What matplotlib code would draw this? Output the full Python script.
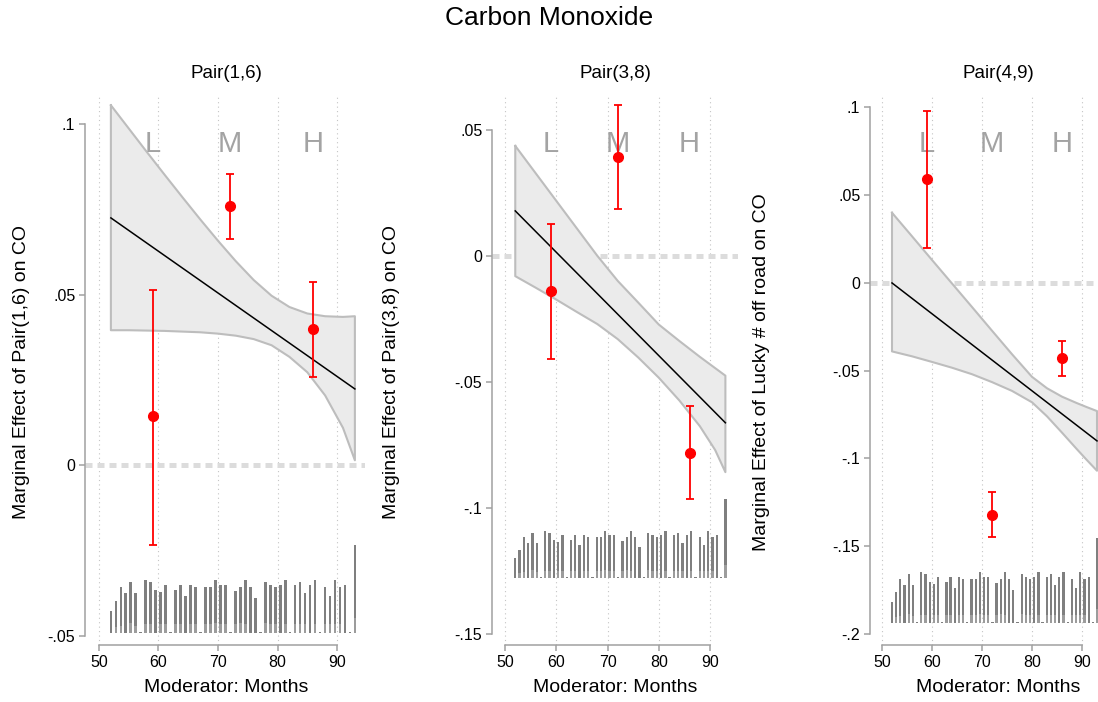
import numpy as np
import matplotlib
matplotlib.use("Agg")
import matplotlib.pyplot as plt
from matplotlib.ticker import FuncFormatter

plt.rcParams['font.family'] = ['Liberation Sans', 'DejaVu Sans']

# ---- data ----
# moderator histogram (same sample in every panel), 50 bins from 52 to 93 months
hist_lo, hist_hi, hist_n = 52, 93, 50
hist_counts = [18, 26, 37, 32, 41, 32, 1, 43, 41, 35, 33, 39, 1, 35, 39, 30, 39, 37, 1, 37,
               37, 43, 39, 39, 1, 34, 37, 43, 37, 28, 1, 41, 39, 37, 39, 43, 1, 39, 41, 32,
               39, 43, 1, 37, 30, 43, 37, 39, 1, 71]
hist_treated = [0, 5, 6, 0, 8, 6, 0, 7, 7, 0, 7, 7, 0, 7, 7, 0, 7, 7, 0, 7,
                7, 8, 7, 7, 0, 7, 8, 7, 0, 0, 0, 8, 7, 7, 0, 7, 0, 7, 7, 7,
                0, 7, 0, 7, 7, 7, 7, 0, 0, 12]

bin_labels = ['L', 'M', 'H']
bin_x = [59, 72, 86]

titles = ['Pair(1,6)', 'Pair(3,8)', 'Pair(4,9)']
ylabels = ['Marginal Effect of Pair(1,6) on CO',
           'Marginal Effect of Pair(3,8) on CO',
           'Marginal Effect of Lucky # off road on CO']

# linear marginal effect
line_x = [52, 93]
p1_line = [0.0725, 0.0224]
p2_line = [0.0179, -0.0662]
p3_line = [0.0, -0.090]

# confidence band
p1_band_x = [52, 55, 58, 61, 64, 67, 70, 73, 76, 79, 82, 85, 88, 91, 93]
p1_upper = [0.1055, 0.0987, 0.0919, 0.0852, 0.0786, 0.0721, 0.0658, 0.0598, 0.0543,
            0.0497, 0.0464, 0.0445, 0.0437, 0.0435, 0.0437]
p1_lower = [0.0396, 0.0396, 0.0395, 0.0394, 0.0392, 0.0390, 0.0386, 0.0380, 0.0370,
            0.0352, 0.0318, 0.0273, 0.0205, 0.0110, 0.0015]

p2_band_x = [52, 56, 60, 64, 68, 72, 76, 80, 84, 88, 91, 93]
p2_upper = [0.0437, 0.0328, 0.0219, 0.0110, 0.0001, -0.0099, -0.0185, -0.0272,
            -0.0337, -0.0400, -0.0445, -0.0475]
p2_lower = [-0.0080, -0.0126, -0.0173, -0.0222, -0.0270, -0.0330, -0.0403, -0.0483,
            -0.0573, -0.0675, -0.0770, -0.0858]

p3_band_x = [52, 56, 60, 64, 68, 72, 76, 80, 83, 86, 89, 91, 93]
p3_upper = [0.040, 0.0266, 0.0131, -0.0003, -0.0137, -0.0272, -0.0406, -0.0535,
            -0.0600, -0.0648, -0.0685, -0.0708, -0.073]
p3_lower = [-0.039, -0.0418, -0.045, -0.0483, -0.052, -0.0565, -0.0615, -0.068,
            -0.076, -0.0853, -0.0948, -0.1010, -0.107]

# binned estimates (L, M, H)
p1_est = [0.0144, 0.0760, 0.0400]
p1_lo = [-0.0233, 0.0663, 0.0259]
p1_hi = [0.0514, 0.0853, 0.0537]

p2_est = [-0.0140, 0.0394, -0.0782]
p2_lo = [-0.0408, 0.0186, -0.0966]
p2_hi = [0.0126, 0.0601, -0.0596]

p3_est = [0.059, -0.132, -0.043]
p3_lo = [0.020, -0.145, -0.053]
p3_hi = [0.098, -0.119, -0.033]

p1_yticks = [-0.05, 0, 0.05, 0.1]
p2_yticks = [-0.15, -0.1, -0.05, 0, 0.05]
p3_yticks = [-0.2, -0.15, -0.1, -0.05, 0, 0.05, 0.1]
xticks = [50, 60, 70, 80, 90]

# ---- layout (pixels) ----
W, H = 1098, 702
fig = plt.figure(figsize=(W / 100, H / 100), dpi=100)

panels = [
    dict(rect=(85, 365, 95, 645), xlim=(47.65, 94.7), ylim=(-0.0526, 0.1085),
         line=p1_line, bx=p1_band_x, up=p1_upper, lo=p1_lower,
         est=p1_est, elo=p1_lo, ehi=p1_hi, yt=p1_yticks,
         base=-0.0491, scale=0.000363, ylab_x=22, cx=226),
    dict(rect=(492, 738, 95, 645), xlim=(47.46, 95.46), ylim=(-0.1544, 0.0639),
         line=p2_line, bx=p2_band_x, up=p2_upper, lo=p2_lower,
         est=p2_est, elo=p2_lo, ehi=p2_hi, yt=p2_yticks,
         base=-0.128, scale=0.000442, ylab_x=392, cx=615),
    dict(rect=(870, 1098, 95, 645), xlim=(47.6, 93.2), ylim=(-0.2063, 0.1071),
         line=p3_line, bx=p3_band_x, up=p3_upper, lo=p3_lower,
         est=p3_est, elo=p3_lo, ehi=p3_hi, yt=p3_yticks,
         base=-0.194, scale=0.000682, ylab_x=762, cx=998),
]

def stata_fmt(v, pos):
    if abs(v) < 1e-12:
        return '0'
    s = ('%g' % v)
    return s.replace('0.', '.')

hist_x = np.linspace(hist_lo, hist_hi, hist_n)
spine_col = '#a0a0a0'

for i, p in enumerate(panels):
    l, r, t, b = p['rect']
    ax = fig.add_axes([l / W, 1 - b / H, (r - l) / W, (b - t) / H])
    ax.set_xlim(*p['xlim'])
    ax.set_ylim(*p['ylim'])

    # zero reference line
    ax.axhline(0, color='#dcdcdc', lw=3.6, ls=(0, (1.4, 1.0)), zorder=1)

    # band + line
    ax.fill_between(p['bx'], p['lo'], p['up'], facecolor='#ebebeb', edgecolor='none', zorder=2)
    bx = list(p['bx'])
    ax.plot(bx + bx[::-1] + [bx[0]], list(p['up']) + list(p['lo'])[::-1] + [p['up'][0]],
            color='#bdbdbd', lw=1.5, zorder=3, solid_joinstyle='round')
    ax.plot(line_x, p['line'], color='black', lw=1.1, zorder=4)

    # histogram
    counts = np.array(hist_counts) * p['scale']
    treated = np.array(hist_treated) * p['scale']
    ax.bar(hist_x, counts, width=0.45, bottom=p['base'], color='#7f7f7f', zorder=2)
    ax.bar(hist_x, treated, width=0.45, bottom=p['base'], color='#9c9c9c', zorder=2)

    # binned estimates
    est = np.array(p['est'])
    yerr = [est - np.array(p['elo']), np.array(p['ehi']) - est]
    ax.errorbar(bin_x, est, yerr=yerr, fmt='o', color='#ff0000', ms=7, elinewidth=1.3,
                capsize=3.2, capthick=1.3, zorder=6)

    for lab, x in zip(bin_labels, bin_x):
        ax.text(x, 0.91, lab, transform=ax.get_xaxis_transform(), ha='center', va='center',
                fontsize=21, color='#a3a3a3', zorder=5)

    # axes styling
    ax.set_xticks(xticks)
    ax.set_yticks(p['yt'])
    ax.yaxis.set_major_formatter(FuncFormatter(stata_fmt))
    ax.grid(axis='x', color='#c4c4c4', lw=0.8, ls=(0, (1, 3)), zorder=0)
    ax.set_axisbelow(True)
    for s in ['top', 'right']:
        ax.spines[s].set_visible(False)
    for s in ['left', 'bottom']:
        ax.spines[s].set_color(spine_col)
        ax.spines[s].set_linewidth(1.1)
    ax.spines['left'].set_bounds(min(p['yt']), max(p['yt']))
    ax.spines['bottom'].set_bounds(50, 90)
    ax.tick_params(direction='out', length=4.5, width=1.1, color=spine_col,
                   labelsize=11.5, pad=2.5)

    fig.text(p['ylab_x'] / W, 1 - 372 / H, ylabels[i], rotation=90, ha='center',
             va='center', fontsize=14)
    fig.text(p['cx'] / W, 1 - 688 / H, 'Moderator: Months', ha='center', va='center',
             fontsize=14)
    fig.text(p['cx'] / W, 1 - 74 / H, titles[i], ha='center', va='center', fontsize=13.5)

fig.text(549 / W, 1 - 18 / H, 'Carbon Monoxide', ha='center', va='center', fontsize=19)

fig.savefig('out.png', dpi=100)
